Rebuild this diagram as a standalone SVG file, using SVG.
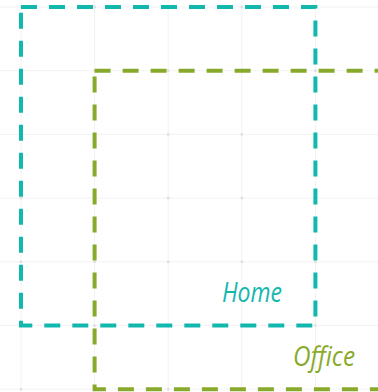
<svg xmlns="http://www.w3.org/2000/svg" width="378" height="392" viewBox="0 0 378 392">
<style>
.grid{stroke:#f2f2f2;stroke-width:1;fill:none}
.dot{fill:#dedede}
.zone{fill:none;stroke-width:4;stroke-dasharray:16 12}
.home{stroke:#12b8ae}
.office{stroke:#88aa2c}
.lbl{font-family:"Open Sans","DejaVu Sans",sans-serif;font-style:italic;font-size:27px;text-anchor:end}
</style>
<defs>
<g id="dotrow">
<rect x="19.8" y="-1.2" width="2.4" height="2.4"/><rect x="93.4" y="-1.2" width="2.4" height="2.4"/><rect x="167" y="-1.2" width="2.4" height="2.4"/><rect x="240.6" y="-1.2" width="2.4" height="2.4"/><rect x="314.2" y="-1.2" width="2.4" height="2.4"/>
</g>
</defs>
<rect width="378" height="392" fill="#ffffff"/>
<g id="grid">
<path class="grid" d="M21 0V392M94.6 0V392M168.2 0V392M241.8 0V392M315.4 0V392M0 7H378M0 70.7H378M0 134.4H378M0 198.1H378M0 261.8H378M0 325.5H378M0 389.2H378"/>
<g class="dot">
<use href="#dotrow" y="7"/><use href="#dotrow" y="70.7"/><use href="#dotrow" y="134.4"/><use href="#dotrow" y="198.1"/><use href="#dotrow" y="261.8"/><use href="#dotrow" y="325.5"/><use href="#dotrow" y="389.2"/>
</g>
</g>
<g id="home">
<rect class="zone home" x="21" y="7" width="294.4" height="318.5"/>
<text class="lbl" x="282" y="301.5" fill="#12b8ae" textLength="60" lengthAdjust="spacingAndGlyphs">Home</text>
</g>
<g id="office">
<rect class="zone office" x="94.6" y="70.7" width="294.4" height="318.5"/>
<text class="lbl" x="355" y="365.5" fill="#88aa2c" textLength="62" lengthAdjust="spacingAndGlyphs">Office</text>
</g>
<g id="connectors"></g>
</svg>
